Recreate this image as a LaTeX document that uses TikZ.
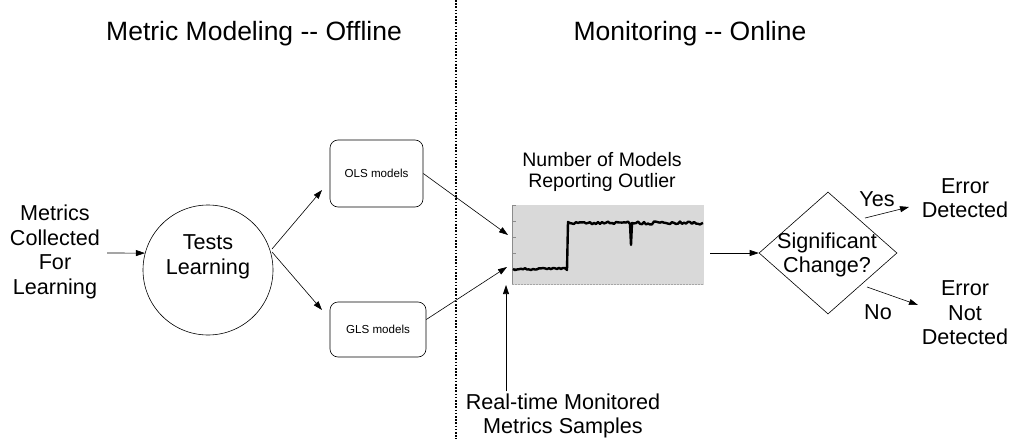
\documentclass[tikz,border=0pt]{standalone}
\usepackage{fontspec}
\setmainfont{Liberation Sans}
\usetikzlibrary{shapes.geometric,arrows.meta,calc}
\begin{document}
\begin{tikzpicture}[x=1pt,y=-1pt,
  txt/.style={align=center,font=\fontsize{21.6}{24.5}\selectfont,inner sep=2pt},
  ttl/.style={font=\fontsize{26.5}{30}\selectfont,inner sep=0pt},
  small/.style={font=\fontsize{11.6}{14}\selectfont},
  modelbox/.style={draw,rounded corners=8pt,line width=0.6pt,inner sep=0pt},
  arr/.style={-{Triangle[length=9pt,width=6pt]},line width=0.6pt},
]
\useasboundingbox (0,0) rectangle (1012,439);

% section titles and divider
\node[ttl] (t1) at (254,34) {Metric Modeling -{}- Offline};
\node[ttl] (t2) at (690,34) {Monitoring -{}- Online};
\draw[line width=1.6pt,dash pattern=on 1.6pt off 1.6pt] (456,0) -- (456,439);

% offline part
\node[txt] (metrics) at (55,252) {Metrics\\Collected\\For\\Learning};
\node[draw,circle,minimum size=130pt,inner sep=0pt,line width=0.6pt] (tl) at (208,270) {};
\node[txt] (tltext) at (208,257) {Tests\\Learning};
\node[modelbox,minimum width=93pt,minimum height=67pt,small] (ols) at (376.5,173.5) {OLS models};
\node[modelbox,minimum width=96pt,minimum height=55pt,small] (gls) at (378,329.5) {GLS models};

\coordinate (tlout1) at (272,249);
\coordinate (tlout2) at (272,252);
\coordinate (olsin) at (322,190);
\coordinate (glsin) at (322,310);
\draw[arr] (107,253) -- (tl.165);
\draw[arr] (tlout1) -- (olsin);
\draw[arr] (tlout2) -- (glsin);

% chart of outlier counts
\node[draw=none,fill=black!15,minimum width=192pt,minimum height=80pt,inner sep=0pt] (chart) at (608,245) {};
\foreach \yy in {205,221,237,253,268} \draw[black!45,line width=0.5pt] (512,\yy) -- (516,\yy);
\draw[black!35,line width=1pt,dash pattern=on 1.5pt off 1.5pt] (512,284) -- (704,284);
\draw[black!45,line width=0.5pt] (512,205) -- (512,284);
\pgfmathsetseed{11}
\draw[line width=2.4pt,line join=round]
  (513,269) \foreach \x in {515,517,...,565} { -- (\x,{269+2.4*rnd-1.2}) }
  -- (567,270) -- (568,222)
  \foreach \x in {570,572,...,628} { -- (\x,{223+3*rnd-1.5}) }
  -- (630,224) -- (631,245) -- (632,223)
  \foreach \x in {634,636,...,702} { -- (\x,{223+3*rnd-1.5}) } -- (703,223);
\node[font=\fontsize{19.5}{21.5}\selectfont,align=center,inner sep=0pt] (charttitle) at (602,172) {Number of Models\\Reporting Outlier};

\coordinate (chin1) at (508,235);
\coordinate (chin2) at (507,267);
\coordinate (chout) at (710,253);
\coordinate (rtin) at (506,285);
\draw[arr] (ols.east) -- (chin1);
\draw[arr] ([yshift=10pt]gls.east) -- (chin2);

\node[txt] (rt) at (563,416) {Real-time Monitored\\Metrics Samples};
\draw[arr] (rt.north -| rtin) -- (rtin);

% decision
\node[draw,diamond,minimum width=138pt,minimum height=122pt,inner sep=0pt,line width=0.6pt] (dia) at (828,253) {};
\node[txt] (diatext) at (827,255) {Significant\\Change?};
\draw[arr] (chout) -- (dia.west);

\node[txt] (errdet) at (965,198) {Error\\Detected};
\node[txt] (errnot) at (965,313) {Error\\Not\\Detected};
\coordinate (yesout) at (865,218);
\coordinate (yesin) at (909,207);
\coordinate (noout) at (867,287);
\coordinate (noin) at (918,305);
\draw[arr] (yesout) -- (yesin);
\draw[arr] (noout) -- (noin);
\node[txt] (yes) at (877,199) {Yes};
\node[txt] (no) at (878,312) {No};
\end{tikzpicture}
\end{document}
